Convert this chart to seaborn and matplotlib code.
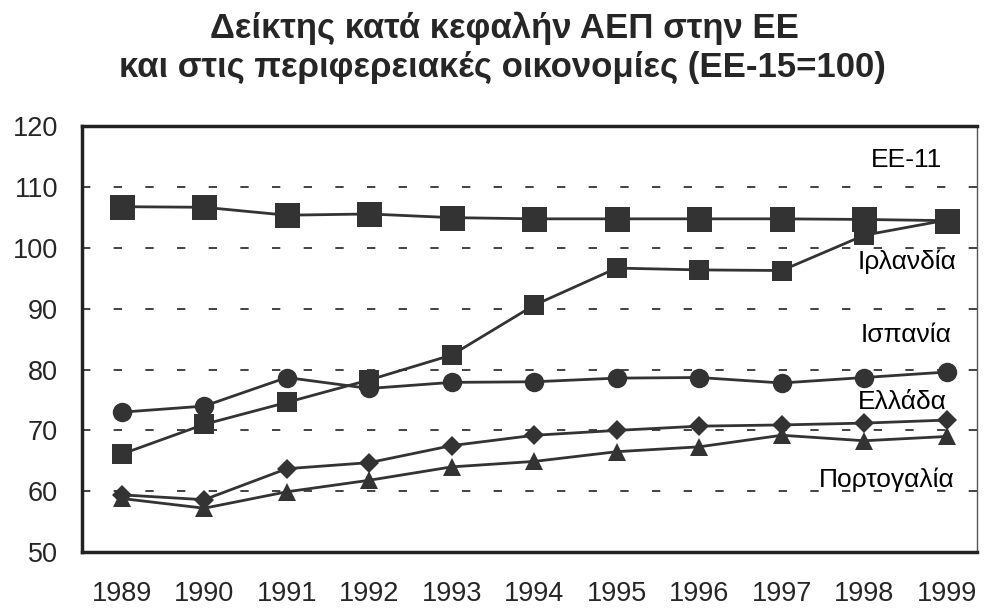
import pandas as pd
import matplotlib
matplotlib.use("Agg")
import matplotlib.pyplot as plt
from matplotlib.ticker import FixedLocator
import seaborn as sns

# values (EE-15 = 100)
years = [1989, 1990, 1991, 1992, 1993, 1994, 1995, 1996, 1997, 1998, 1999]
ee11 = [106.8, 106.7, 105.4, 105.6, 105.0, 104.8, 104.8, 104.8, 104.8, 104.7, 104.5]
ireland = [66.1, 71.0, 74.6, 78.3, 82.4, 90.6, 96.7, 96.4, 96.3, 102.1, 104.6]
spain = [73.0, 74.0, 78.7, 76.9, 77.9, 78.0, 78.6, 78.7, 77.8, 78.7, 79.6]
greece = [59.4, 58.6, 63.7, 64.7, 67.5, 69.2, 70.0, 70.7, 70.9, 71.2, 71.7]
portugal = [58.8, 57.2, 59.9, 61.8, 64.0, 64.9, 66.5, 67.3, 69.2, 68.3, 69.0]

series_names = ["ΕΕ-11", "Ιρλανδία", "Ισπανία", "Ελλάδα", "Πορτογαλία"]
title_lines = ["Δείκτης κατά κεφαλήν ΑΕΠ στην ΕΕ",
               "και στις περιφερειακές οικονομίες (ΕΕ-15=100)"]

sns.set_style("white")
plt.rcParams["font.family"] = ["Liberation Sans", "DejaVu Sans"]

fig = plt.figure(figsize=(9.86, 6.09), dpi=100)
ax = fig.add_axes([0.0829, 0.0936, 0.9077, 0.6988])

line_col = "#333333"
styles = [("s", 18), ("s", 14.5), ("o", 14), ("D", 10), ("^", 13)]
all_values = [ee11, ireland, spain, greece, portugal]

for vals, (mk, ms) in zip(all_values, styles):
    sns.lineplot(x=years, y=vals, ax=ax, color=line_col, linewidth=2,
                 marker=mk, markersize=ms, markeredgewidth=0,
                 markerfacecolor=line_col, zorder=3)

# series labels on the right side
label_x = [1998.94, 1999.12, 1999.06, 1999.0, 1999.10]
label_y = [113.4, 96.5, 84.6, 73.6, 60.75]
for name, lx, ly in zip(series_names, label_x, label_y):
    ax.text(lx, ly, name, ha="right", va="baseline", fontsize=19, color="black")

ax.set_xlim(1988.515, 1999.364)
ax.set_ylim(50, 120)
ax.set_yticks(range(50, 121, 10))
ax.set_xticks(years)
ax.xaxis.set_minor_locator(FixedLocator([y - 0.5 for y in years]))
ax.tick_params(axis="x", which="major", length=0, pad=21, labelsize=19.5)
ax.tick_params(axis="x", which="minor", length=6.5, width=1.5, direction="out")
ax.tick_params(axis="y", length=10, width=1.5, direction="inout", pad=12, labelsize=19.5)
ax.set_xlabel("")
ax.set_ylabel("")

ax.yaxis.grid(True, linestyle=(0, (5, 14)), color="#222222", linewidth=1.2)
ax.set_axisbelow(True)

for side in ["left", "bottom", "top"]:
    ax.spines[side].set_linewidth(2.5)
    ax.spines[side].set_color("#222222")
ax.spines["right"].set_linewidth(1)
ax.spines["right"].set_color("#555555")

title_font = ["Liberation Sans", "DejaVu Sans"]
fig.text(0.512, 1 - 38 / 609, title_lines[0], ha="center", va="baseline",
         fontsize=25, fontweight="bold", family=title_font)
fig.text(0.510, 1 - 76.5 / 609, title_lines[1], ha="center", va="baseline",
         fontsize=25, fontweight="bold", family=title_font)

fig.savefig("out.png", dpi=100)
